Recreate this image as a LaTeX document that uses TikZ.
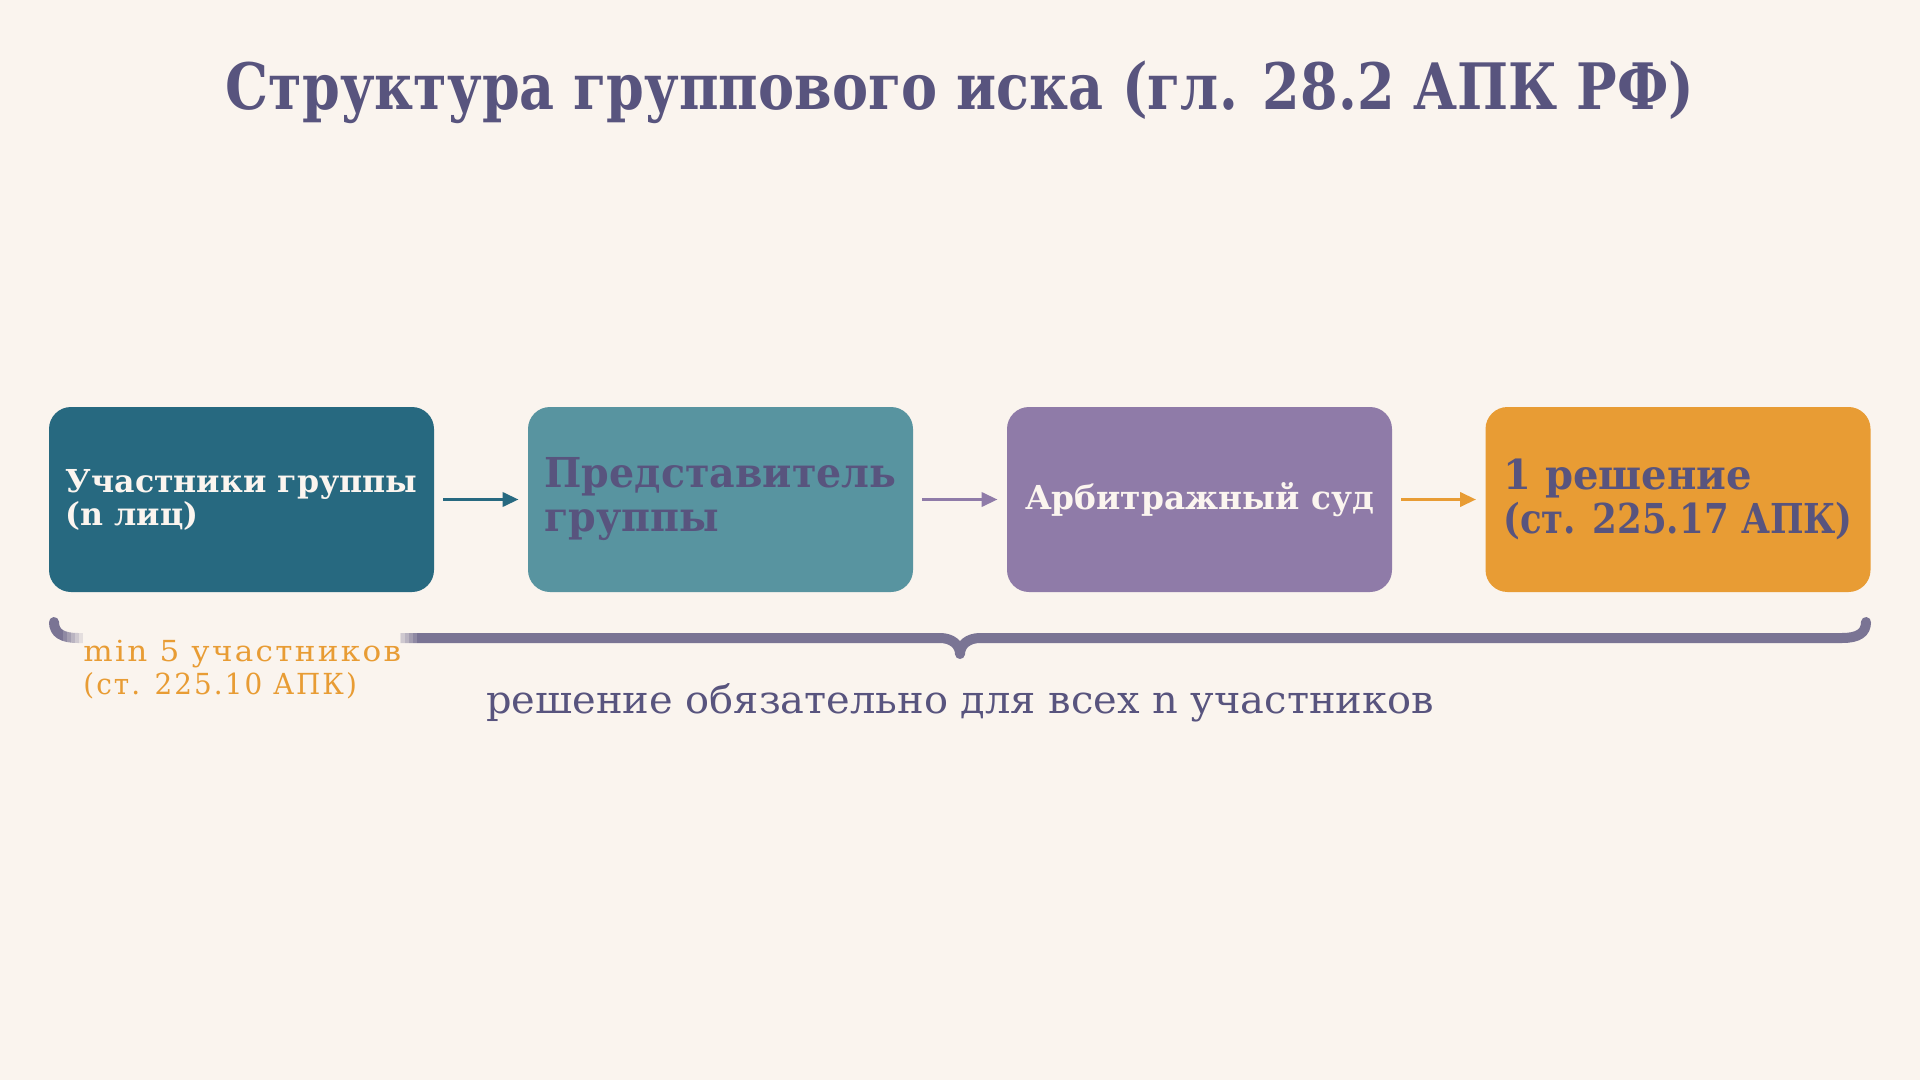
\documentclass[tikz,border=0pt]{standalone}
\usepackage{fontspec}
\setmainfont{DejaVu Serif}
\newfontfamily\titlef[FakeStretch=0.845]{DejaVu Serif}
\newfontfamily\boxaf[FakeStretch=1.0]{DejaVu Serif}
\newfontfamily\boxbf[FakeStretch=0.96]{DejaVu Serif}
\newfontfamily\boxcf[FakeStretch=0.994]{DejaVu Serif}
\newfontfamily\boxdf[FakeStretch=0.863]{DejaVu Serif}
\newfontfamily\boxdwf[FakeStretch=0.974]{DejaVu Serif}
\newfontfamily\botf[FakeStretch=1.035]{DejaVu Serif}
\newfontfamily\minf[FakeStretch=1.07,LetterSpace=8]{DejaVu Serif}
\newfontfamily\minnf[FakeStretch=0.96,LetterSpace=7]{DejaVu Serif}
\usetikzlibrary{arrows.meta}
\definecolor{bgc}{HTML}{FAF4EE}
\definecolor{cA}{HTML}{276980}
\definecolor{cB}{HTML}{5894A0}
\definecolor{cC}{HTML}{8F7BA8}
\definecolor{cD}{HTML}{E89C34}
\definecolor{ink}{HTML}{58547E}
\definecolor{cream}{HTML}{FBF5EF}
\definecolor{bracec}{HTML}{7A7494}
\tikzset{
  stagebox/.style={rounded corners=11pt, minimum width=192.5pt, minimum height=92.5pt,
    inner xsep=4pt, inner ysep=0pt, align=left},
  flowarr/.style={line width=1.75pt, -{Triangle[length=8pt,width=7pt]}, shorten <=4.5pt, shorten >=4.5pt},
}
\begin{document}
\begin{tikzpicture}[x=0.5pt,y=-0.5pt]
\fill[bgc] (0,0) rectangle (1920,1080);
\useasboundingbox (0,0) rectangle (1920,1080);
% title
\node[anchor=base, text=ink, font=\titlef\bfseries\fontsize{32}{38}\selectfont, inner sep=0] (title) at (960,110) {Структура группового иска (гл. 28.2 АПК РФ)};
% boxes
\node[stagebox, fill=cA, text=cream, font=\boxaf\bfseries\fontsize{15.8}{16.5}\selectfont] (b1) at (241.5,499.5) {Участники группы\\(n лиц)};
\node[stagebox, fill=cB, text=ink, font=\boxbf\bfseries\fontsize{20.6}{22}\selectfont] (b2) at (720.5,499.5) {Представитель\\группы};
\node[stagebox, fill=cC, text=cream, font=\boxcf\bfseries\fontsize{16.5}{18}\selectfont] (b3) at (1199.5,499.5) {Арбитражный суд};
\node[stagebox, fill=cD, text=ink, font=\boxdf\bfseries\fontsize{20.6}{22}\selectfont] (b4) at (1678,499.5) {{\boxdwf\bfseries 1 решение}\\(ст. 225.17 АПК)};
% arrows
\draw[flowarr, cA] (b1) -- (b2);
\draw[flowarr, cC] (b2) -- (b3);
\draw[flowarr, cD] (b3) -- (b4);
% brace
\draw[bracec, line width=5pt, line cap=round, line join=round]
  (54,622) .. controls (54,633) and (62,638) .. (78,638) -- (940,638)
  .. controls (952,638) and (960,645) .. (960,654)
  .. controls (960,645) and (968,638) .. (980,638) -- (1842,638)
  .. controls (1858,638) and (1866,633) .. (1866,622);
% fading patch behind label
\fill[bgc] (83,626) rectangle (400,652);
\foreach \i/\o in {0/0.17,1/0.33,2/0.5,3/0.67,4/0.83}{
  \fill[bgc, opacity=\o] (63+4*\i,626) rectangle (67+4*\i,652);
  \fill[bgc, opacity=\o] (417-4*\i,626) rectangle (413-4*\i,652);
}
% labels
\node[anchor=base west, align=left, text=cD, inner sep=0, font=\minf\fontsize{14.5}{16.5}\selectfont] (minlbl) at (83,694) {min 5 участников\\{\minnf (ст. 225.10 АПК)}};
\node[anchor=base, text=ink, inner sep=0, font=\botf\fontsize{19.3}{22}\selectfont] (botlbl) at (960,713) {решение обязательно для всех n участников};
\end{tikzpicture}
\end{document}
